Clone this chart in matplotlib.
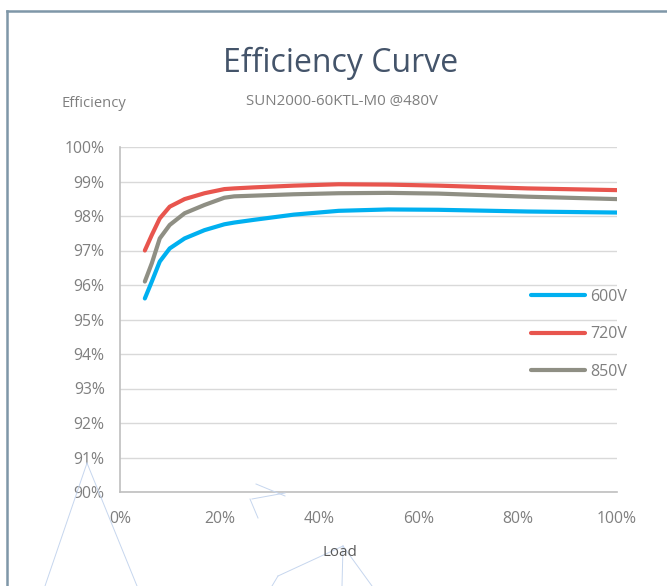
import matplotlib
matplotlib.use("Agg")
import matplotlib.pyplot as plt
from matplotlib.lines import Line2D
from matplotlib.ticker import FuncFormatter

plt.rcParams['font.family'] = ['Open Sans', 'DejaVu Sans']

load = [5, 6.4, 8, 10, 13, 17, 21, 23, 27, 35, 44, 54, 64, 82, 100]
eff_600 = [95.61, 96.10, 96.68, 97.06, 97.35, 97.59, 97.76, 97.81, 97.89, 98.04, 98.15, 98.19, 98.18, 98.13, 98.10]
eff_720 = [97.00, 97.45, 97.93, 98.27, 98.49, 98.66, 98.78, 98.80, 98.83, 98.88, 98.92, 98.91, 98.88, 98.80, 98.75]
eff_850 = [96.10, 96.63, 97.35, 97.74, 98.08, 98.32, 98.53, 98.57, 98.59, 98.63, 98.66, 98.67, 98.65, 98.56, 98.49]
series_labels = ["600V", "720V", "850V"]
colors = ["#00b0f0", "#e8554e", "#8f8f84"]
y_ticks = [90, 91, 92, 93, 94, 95, 96, 97, 98, 99, 100]
x_ticks = [0, 20, 40, 60, 80, 100]

W, H = 667, 586
fig = plt.figure(figsize=(W / 100, H / 100), dpi=100)
ax = fig.add_axes([120 / W, 1 - 492 / H, (617 - 120) / W, (492 - 147) / H])

for vals, lab, c in zip([eff_600, eff_720, eff_850], series_labels, colors):
    ax.plot(load, vals, color=c, lw=3.0, label=lab, solid_capstyle='round',
            solid_joinstyle='round')

ax.set_xlim(0, 100)
ax.set_ylim(90, 100)
ax.set_yticks(y_ticks)
ax.set_xticks(x_ticks)
ax.yaxis.set_major_formatter(FuncFormatter(lambda v, p: f"{v:.0f}%"))
ax.xaxis.set_major_formatter(FuncFormatter(lambda v, p: f"{v:.0f}%"))
ax.grid(axis='y', color='#d9d9d9', lw=1)
ax.set_axisbelow(True)
for s in ['top', 'right']:
    ax.spines[s].set_visible(False)
for s in ['left', 'bottom']:
    ax.spines[s].set_color('#bfbfbf')
    ax.spines[s].set_linewidth(1.2)
ax.tick_params(length=0, colors='#7f7f7f', labelsize=11.3)
ax.tick_params(axis='y', pad=11)
ax.tick_params(axis='x', pad=14)

leg = ax.legend(loc='center left', bbox_to_anchor=((531 - 120) / 497, 1 - (334.5 - 147) / 345),
                frameon=False, fontsize=11.5, handlelength=3.4, handletextpad=0.3,
                labelspacing=1.35, borderpad=0, borderaxespad=0)
for t in leg.get_texts():
    t.set_color('#7f7f7f')

fig.text(341 / W, 1 - 63.5 / H, "Efficiency Curve", ha='center', va='center',
         fontsize=23, color='#44546a')
fig.text(342 / W, 1 - 101.5 / H, "SUN2000-60KTL-M0 @480V", ha='center', va='center',
         fontsize=10.8, color='#7f7f7f')
fig.text(94 / W, 1 - 103 / H, "Efficiency", ha='center', va='center',
         fontsize=10.6, color='#7f7f7f')
fig.text(340 / W, 1 - 552.5 / H, "Load", ha='center', va='center',
         fontsize=10.8, color='#595959')

# frame border
fig.add_artist(Line2D([6.5 / W, 6.5 / W], [0, 1 - 11 / H], transform=fig.transFigure,
                      color='#7f97a8', lw=1.8))
fig.add_artist(Line2D([6.5 / W, 1], [1 - 11 / H, 1 - 11 / H], transform=fig.transFigure,
                      color='#7f97a8', lw=1.8))

# faint decorative lines
deco = [((87, 463), (45, 586)), ((87, 463), (137, 586)),
        ((256, 484), (285, 496)), ((250, 499), (258, 518)), ((252, 499), (285, 493)),
        ((343, 546), (278, 576)), ((343, 546), (342, 586)), ((343, 546), (372, 586)),
        ((278, 576), (272, 586))]
for (x0, y0), (x1, y1) in deco:
    fig.add_artist(Line2D([x0 / W, x1 / W], [1 - y0 / H, 1 - y1 / H], transform=fig.transFigure,
                          color='#c6d6ee', lw=0.7))

fig.savefig("out.png", dpi=100)
